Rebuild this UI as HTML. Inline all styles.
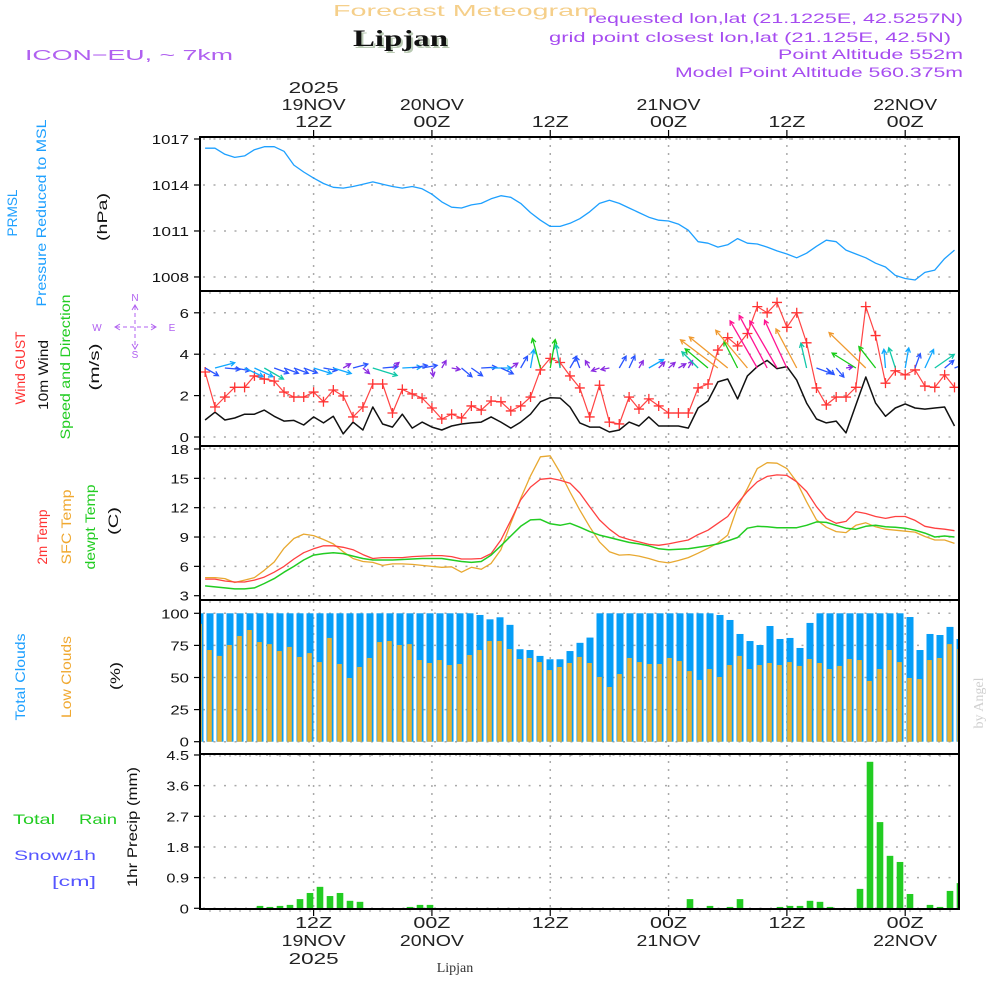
<!DOCTYPE html>
<html><head><meta charset="utf-8"><title>Forecast Meteogram Lipjan</title>
<style>
html,body{margin:0;padding:0;background:#fff;}
svg{display:block;}
text{font-family:"Liberation Sans",sans-serif;}
</style></head>
<body>
<svg id="chart" width="1000" height="1000" viewBox="0 0 1000 1000" xmlns="http://www.w3.org/2000/svg">
<rect x="0" y="0" width="1000" height="1000" fill="#fff"/>
<text x="333" y="16" font-size="16" fill="#f5cf8a" textLength="265" lengthAdjust="spacingAndGlyphs">Forecast Meteogram</text>
<text x="355" y="48" font-size="23" font-weight="bold" font-family="Liberation Serif, serif" fill="#b9c9b3" textLength="95" lengthAdjust="spacingAndGlyphs" style="font-family:'Liberation Serif',serif">Lipjan</text>
<text x="353" y="46" font-size="23" font-weight="bold" fill="#111" textLength="95" lengthAdjust="spacingAndGlyphs" style="font-family:'Liberation Serif',serif">Lipjan</text>
<text x="25" y="60" font-size="15" fill="#b060f0" textLength="208" lengthAdjust="spacingAndGlyphs">ICON−EU, ~ 7km</text>
<text x="963" y="23" font-size="14" fill="#a64cf0" text-anchor="end" textLength="375" lengthAdjust="spacingAndGlyphs">requested lon,lat (21.1225E, 42.5257N)</text>
<text x="951" y="42" font-size="14" fill="#a64cf0" text-anchor="end" textLength="402" lengthAdjust="spacingAndGlyphs">grid point closest lon,lat (21.125E, 42.5N)</text>
<text x="963" y="59" font-size="14" fill="#a64cf0" text-anchor="end" textLength="185" lengthAdjust="spacingAndGlyphs">Point Altitude 552m</text>
<text x="963" y="77" font-size="14" fill="#a64cf0" text-anchor="end" textLength="288" lengthAdjust="spacingAndGlyphs">Model Point Altitude 560.375m</text>

<!-- left axis titles -->
<text transform="translate(17,213) rotate(-90)" text-anchor="middle" font-size="14" fill="#1ea0ff" textLength="47" lengthAdjust="spacingAndGlyphs">PRMSL</text>
<text transform="translate(46,213) rotate(-90)" text-anchor="middle" font-size="14" fill="#1ea0ff" textLength="187" lengthAdjust="spacingAndGlyphs">Pressure Reduced to MSL</text>
<text transform="translate(107,217) rotate(-90)" text-anchor="middle" font-size="14" fill="#111" textLength="48" lengthAdjust="spacingAndGlyphs">(hPa)</text>
<text transform="translate(25,368) rotate(-90)" text-anchor="middle" font-size="14" fill="#ff3333" textLength="73" lengthAdjust="spacingAndGlyphs">Wind GUST</text>
<text transform="translate(48,375) rotate(-90)" text-anchor="middle" font-size="14" fill="#111" textLength="70" lengthAdjust="spacingAndGlyphs">10m Wind</text>
<text transform="translate(70,367) rotate(-90)" text-anchor="middle" font-size="14" fill="#22cc22" textLength="145" lengthAdjust="spacingAndGlyphs">Speed and Direction</text>
<text transform="translate(99,367) rotate(-90)" text-anchor="middle" font-size="14" fill="#111" textLength="47" lengthAdjust="spacingAndGlyphs">(m/s)</text>
<g fill="#b060f0" stroke="#b060f0" font-size="10">
<text x="135" y="301" text-anchor="middle" stroke="none">N</text>
<text x="135" y="358" text-anchor="middle" stroke="none">S</text>
<text x="97" y="331" text-anchor="middle" stroke="none">W</text>
<text x="172" y="331" text-anchor="middle" stroke="none">E</text>
<line x1="116" y1="327" x2="155" y2="327" stroke-dasharray="4 3" fill="none"/>
<line x1="135" y1="306" x2="135" y2="348" stroke-dasharray="4 3" fill="none"/>
<polyline points="120,324 115,327 120,330" fill="none"/>
<polyline points="151,324 156,327 151,330" fill="none"/>
<polyline points="132,310 135,305 138,310" fill="none"/>
<polyline points="132,344 135,349 138,344" fill="none"/>
</g>
<text transform="translate(47,537) rotate(-90)" text-anchor="middle" font-size="14" fill="#ff3333" textLength="55" lengthAdjust="spacingAndGlyphs">2m Temp</text>
<text transform="translate(71,527) rotate(-90)" text-anchor="middle" font-size="14" fill="#f0a830" textLength="75" lengthAdjust="spacingAndGlyphs">SFC Temp</text>
<text transform="translate(95,527) rotate(-90)" text-anchor="middle" font-size="14" fill="#22cc22" textLength="85" lengthAdjust="spacingAndGlyphs">dewpt Temp</text>
<text transform="translate(118,521) rotate(-90)" text-anchor="middle" font-size="14" fill="#111" textLength="28" lengthAdjust="spacingAndGlyphs">(C)</text>
<text transform="translate(25,677) rotate(-90)" text-anchor="middle" font-size="14" fill="#1ea0ff" textLength="87" lengthAdjust="spacingAndGlyphs">Total Clouds</text>
<text transform="translate(71,677) rotate(-90)" text-anchor="middle" font-size="14" fill="#f0a830" textLength="82" lengthAdjust="spacingAndGlyphs">Low Clouds</text>
<text transform="translate(120,676) rotate(-90)" text-anchor="middle" font-size="14" fill="#111" textLength="28" lengthAdjust="spacingAndGlyphs">(%)</text>
<text transform="translate(137,827) rotate(-90)" text-anchor="middle" font-size="14" fill="#111" textLength="120" lengthAdjust="spacingAndGlyphs">1hr Precip (mm)</text>
<text x="13" y="824" font-size="14" fill="#22cc22" textLength="42" lengthAdjust="spacingAndGlyphs">Total</text>
<text x="79" y="824" font-size="14" fill="#22cc22" textLength="38" lengthAdjust="spacingAndGlyphs">Rain</text>
<text x="14" y="860" font-size="14" fill="#5555ff" textLength="82" lengthAdjust="spacingAndGlyphs">Snow/1h</text>
<text x="52" y="886" font-size="14" fill="#5555ff" textLength="44" lengthAdjust="spacingAndGlyphs">[cm]</text>
<text transform="translate(983,703) rotate(-90)" text-anchor="middle" font-size="14" fill="#d0d0d0" style="font-family:'Liberation Serif',serif">by Angel</text>
<text x="455" y="972" text-anchor="middle" font-size="14" fill="#333" style="font-family:'Liberation Serif',serif">Lipjan</text>
<g id="plot"></g>
</svg>
<script>
// ---------- data ----------
const hourIdx = Array.from({length:77},(_,i)=>i+1);
const barIdx = Array.from({length:77},(_,i)=>i);
const pressure = [1016.4,1016.4,1016.0,1015.8,1015.9,1016.3,1016.5,1016.5,1016.2,1015.3,
1014.85,1014.45,1014.1,1013.85,1013.8,1013.9,1014.05,1014.2,1014.05,1013.9,
1013.8,1013.9,1013.75,1013.4,1012.9,1012.55,1012.5,1012.7,1012.8,1013.1,
1013.3,1013.2,1012.8,1012.2,1011.7,1011.3,1011.3,1011.5,1011.8,1012.25,
1012.8,1013.0,1012.8,1012.5,1012.2,1011.9,1011.7,1011.65,1011.45,1011.05,
1010.3,1010.2,1009.95,1010.1,1010.5,1010.2,1010.15,1009.95,1009.7,1009.5,
1009.25,1009.55,1010.0,1010.4,1010.3,1009.75,1009.5,1009.25,1008.9,1008.65,
1008.1,1007.9,1007.8,1008.3,1008.45,1009.2,1009.75];
const windGust = [3.14,1.45,1.93,2.4,2.4,2.95,2.8,2.7,2.17,1.93,
1.93,2.17,1.7,2.27,1.98,0.97,1.45,2.56,2.56,1.16,
2.3,2.08,1.88,1.4,0.87,1.1,0.92,1.5,1.3,1.74,
1.7,1.26,1.5,1.93,3.24,3.8,3.6,2.95,2.37,0.97,
2.5,0.72,0.63,1.93,1.35,1.84,1.5,1.16,1.16,1.16,
2.37,2.56,4.2,4.8,4.4,5.0,6.3,6.0,6.5,5.3,
6.0,4.55,2.37,1.55,1.93,1.93,2.4,6.3,4.9,2.6,
3.2,3.0,3.24,2.46,2.4,3.0,2.4];
const wind10m = [0.82,1.2,0.82,0.92,1.1,1.1,1.3,1.0,0.77,0.8,
0.58,0.97,0.68,1.0,0.15,0.72,0.34,1.45,0.63,0.48,
1.1,0.43,0.72,0.48,0.34,0.53,0.63,0.68,0.72,0.97,
0.72,0.43,0.72,1.1,1.7,1.9,1.88,1.45,0.68,0.48,
0.48,0.24,0.34,0.72,0.53,0.97,0.53,0.53,0.53,0.43,
1.4,1.74,2.66,2.8,1.84,2.95,3.4,3.7,3.3,3.4,
2.75,1.64,0.87,0.68,0.77,0.2,1.55,2.9,1.64,1.0,
1.4,1.6,1.4,1.35,1.4,1.45,0.53];
const arrowDir = [-30,15,-5,-10,-25,-25,-30,-20,-20,-20,
-20,-17,-10,-17,30,15,-40,-17,5,40,
3,10,10,-80,60,-10,-40,-35,3,0,
-25,35,60,80,105,80,100,60,110,120,
200,190,60,65,60,30,45,40,30,60,
135,140,143,141,117,130,120,118,120,115,
118,103,-20,-40,-50,10,148,136,128,95,
108,80,70,65,35,40,20];
const arrowSpd = [0.9,1.2,0.9,0.9,1.2,1.2,1.3,0.9,0.9,0.9,
0.85,1.1,0.8,1.1,0.5,0.9,0.5,1.5,0.9,0.5,
1.1,0.9,0.9,0.5,0.5,0.5,0.8,0.8,0.9,1.2,
0.8,0.5,0.8,1.1,1.8,1.7,1.4,0.8,0.7,0.5,
0.5,0.5,0.8,0.8,0.5,1.0,0.5,0.5,0.5,0.5,
1.35,1.75,2.75,2.9,1.75,2.9,3.2,3.5,3.2,3.1,
2.6,1.5,0.9,0.6,0.7,0.4,1.65,3.0,1.6,1.1,
1.25,1.2,0.9,1.2,1.4,0.7,0.8];
const temp2m = [4.7,4.7,4.5,4.4,4.4,4.6,4.9,5.4,6.0,6.75,
7.4,7.8,8.1,8.1,7.95,7.7,7.2,6.8,6.9,6.9,
6.9,7.0,7.05,7.1,7.1,7.0,6.75,6.75,6.8,7.3,
8.7,10.7,12.8,14.1,14.9,15.0,14.8,14.5,13.5,12.1,
10.75,9.8,9.05,8.75,8.5,8.25,8.15,8.3,8.5,8.7,
9.25,9.7,10.4,11.1,12.45,13.65,14.65,15.2,15.35,15.3,
14.65,13.65,12.1,10.9,10.4,10.6,11.6,11.4,11.1,10.9,
11.1,11.1,10.7,10.1,9.9,9.8,9.65];
const tempSfc = [4.85,4.85,4.75,4.35,4.6,4.85,5.6,6.45,7.85,8.85,
9.3,9.15,8.75,8.3,7.5,6.8,6.5,6.4,6.1,6.25,
6.25,6.2,6.1,6.0,5.9,5.95,5.4,5.9,5.7,6.3,
7.7,10.4,12.95,15.25,17.2,17.3,15.6,13.6,11.75,10.05,
8.5,7.5,7.15,7.2,7.05,6.8,6.5,6.35,6.6,6.9,
7.35,7.85,8.4,9.2,12.1,13.95,16.0,16.6,16.55,16.0,
14.65,12.6,10.75,10.0,9.55,9.45,10.2,10.45,10.05,9.8,
9.7,9.6,9.5,9.05,8.7,8.7,8.35];
const dewpt = [4.0,3.9,3.8,3.7,3.7,3.8,4.25,4.75,5.4,6.0,
6.65,7.15,7.3,7.4,7.3,7.05,6.8,6.65,6.65,6.65,
6.7,6.75,6.8,6.8,6.8,6.65,6.5,6.4,6.5,7.15,
8.1,9.1,10.1,10.75,10.8,10.35,10.2,10.4,10.0,9.55,
9.2,8.95,8.7,8.45,8.3,8.1,7.8,7.7,7.75,7.8,
7.95,8.1,8.3,8.6,8.95,9.9,10.1,10.05,9.95,9.95,
9.95,10.2,10.55,10.5,10.2,9.9,9.8,10.1,10.2,10.05,
10.0,9.9,9.7,9.4,9.0,9.1,9.0];
const totalClouds = [100,100,100,100,100,100,100,100,100,100,
100,100,100,100,100,100,100,100,100,100,
100,100,100,100,100,100,100,100,98.7,95.3,
96.9,91,72,71.4,66.8,64.2,64.2,70.6,77,81.1,
100,100,100,100,100,100,100,100,100,100,
100,100,98.7,94.8,83.9,78.4,75.3,90.1,80,80.8,
73,92.5,100,100,100,100,100,100,100,100,
100,97.1,71.4,83.9,83.1,89.4,80];
const lowClouds = [91.7,71.4,66.8,75.3,82.3,87,77.6,76,70.6,73.8,
66,69,62,80.8,60.5,49.6,58.2,65.2,77.6,78.4,
75.3,76,63.6,61.3,63.6,59.7,60.5,67.5,71.4,78.4,
78.4,72.2,64.4,65.2,62,55.8,58.2,61.3,66,61.3,
50.4,42.6,52.7,65.2,62,60.5,60.5,65.2,62.8,55,
48.1,56.6,50.4,59.7,66.8,56.6,59.7,61.3,59.7,62,
59,64.4,61.3,56.6,59,64.4,63.6,47.3,56.6,71.4,
62,49.6,48.8,63.6,65.2,76,72.2];
const precip = [0,0,0,0,0,0,0.07,0.04,0.07,0.1,
0.27,0.45,0.63,0.36,0.45,0.22,0.19,0,0,0,
0,0.04,0.1,0.1,0,0,0,0,0,0,
0,0,0,0,0,0,0,0,0,0,
0,0,0,0,0,0,0,0,0,0.27,
0,0.07,0,0.04,0.27,0,0,0,0.04,0.07,
0.07,0.22,0.19,0.04,0,0,0.57,4.3,2.53,1.54,
1.36,0.42,0,0.1,0.04,0.51,0.74];
const pressTicks = [1008,1011,1014,1017];
const windTicks = [0,2,4,6];
const tempTicks = [3,6,9,12,15,18];
const cloudTicks = [0,25,50,75,100];
const precipTicks = [0,0.9,1.8,2.7,3.6,4.5];
const precipTickLabels = ["0","0.9","1.8","2.7","3.6","4.5"];
const timeTickHours = [12,24,36,48,60,72];
const timeTopLabels = [["2025","19NOV","12Z"],["","20NOV","00Z"],["","","12Z"],["","21NOV","00Z"],["","","12Z"],["","22NOV","00Z"]];
const timeBottomLabels = [["12Z","19NOV","2025"],["00Z","20NOV",""],["12Z","",""],["00Z","21NOV",""],["12Z","",""],["00Z","22NOV",""]];

// ---------- scales ----------
const L=200, R=959, TOP=137;
const P = {pres:[137,291],wind:[291,446],temp:[446,600],cloud:[600,754],prec:[754,909]};
const xH = h => 313.6 + (h-12)*9.86;
const xB = k => 200 + 10*k;
const yPres = v => 139 + (1017-v)*15.33;
const yWind = v => 437 - v*20.7;
const yTemp = v => 449 + (18-v)*9.78;
const yCloud = v => 741.7 - v*1.284;
const yPrec = v => 908.3 - v*34.07;

const NS="http://www.w3.org/2000/svg";
const plot=document.getElementById('plot');
function mk(tag,attrs,parent){const e=document.createElementNS(NS,tag);for(const k in attrs)e.setAttribute(k,attrs[k]);(parent||plot).appendChild(e);return e;}

// clip
const defs=mk('defs',{});
const cp=mk('clipPath',{id:'clipPlot'},defs);
mk('rect',{x:L,y:TOP,width:R-L,height:909-TOP},cp);

// grids
const grid=mk('g',{stroke:'#aaa','stroke-width':'1.5','stroke-dasharray':'2 8.5',fill:'none'});


function hgrid(y){mk('line',{x1:L+3,y1:y,x2:R,y2:y},grid);}
pressTicks.forEach(v=>hgrid(yPres(v)));
windTicks.forEach(v=>hgrid(yWind(v)));
tempTicks.forEach(v=>hgrid(yTemp(v)));
cloudTicks.forEach(v=>hgrid(yCloud(v)));
precipTicks.forEach(v=>hgrid(yPrec(v)));
timeTickHours.forEach(h=>mk('line',{x1:xH(h),y1:TOP,x2:xH(h),y2:909,'stroke-dasharray':'2 6'},grid));

// clouds bars
const cg=mk('g',{'clip-path':'url(#clipPlot)'});


barIdx.forEach((k,i)=>{
  const b=mk('rect',{x:xB(k)-3.5,y:yCloud(totalClouds[i]),width:7,height:yCloud(0)-yCloud(totalClouds[i]),fill:'#069ef7'},cg);
  
  
  const o=mk('rect',{x:xB(k)-2.8,y:yCloud(lowClouds[i]),width:4.6,height:yCloud(0)-yCloud(lowClouds[i]),fill:'#e8b030'},cg);
  
  
});
// precip bars
const pg=mk('g',{'clip-path':'url(#clipPlot)'});


barIdx.forEach((k,i)=>{
  if(precip[i]<=0) return;
  const b=mk('rect',{x:xB(k)-3.3,y:yPrec(precip[i]),width:6.6,height:yPrec(0)-yPrec(precip[i]),fill:'#22cc22'},pg);
  
  
});

function line(arr,yf,color,name,w){
  const pts=hourIdx.map((h,i)=>xH(h).toFixed(1)+','+yf(arr[i]).toFixed(1)).join(' ');
  const p=mk('polyline',{points:pts,fill:'none',stroke:color,'stroke-width':w||1.3,'stroke-linejoin':'round','clip-path':'url(#clipPlot)'});
  
  
  return p;
}
line(pressure,yPres,'#1ea0ff','pressure-line',1.3);
line(tempSfc,yTemp,'#e8a830','sfc-temp-line',1.3);
line(temp2m,yTemp,'#ff4040','temp-2m-line',1.3);
line(dewpt,yTemp,'#22cc22','dewpoint-line',1.5);
line(wind10m,yWind,'#111','wind-10m-line',1.5);
line(windGust,yWind,'#ff4444','wind-gust-line',1.2);
// gust markers
const gm=mk('g',{stroke:'#ff3333','stroke-width':'1.3'});


hourIdx.forEach((h,i)=>{
  const x=xH(h),y=yWind(windGust[i]);
  mk('path',{d:`M${x-5},${y}H${x+5}M${x},${y-5}V${y+5}`},gm);
});
// wind arrows
function arrowColor(s){
  if(s<0.55) return '#8a2be2';
  if(s<0.95) return '#2a55ff';
  if(s<1.25) return '#10a8ff';
  if(s<1.55) return '#10c8a8';
  if(s<2.0) return '#18cc18';
  if(s<3.1) return '#f09a30';
  return '#ff1493';
}
const ag=mk('g',{'stroke-width':'1.3',fill:'none','clip-path':'url(#clipPlot)'});


const baseY=368;
hourIdx.forEach((h,i)=>{
  const x=xH(h), a=arrowDir[i]*Math.PI/180, len=arrowSpd[i]*17;
  const x2=x+len*Math.cos(a), y2=baseY-len*Math.sin(a);
  const hs=5, ang=Math.atan2(y2-baseY,x2-x);
  const h1x=x2-hs*Math.cos(ang-0.5), h1y=y2-hs*Math.sin(ang-0.5);
  const h2x=x2-hs*Math.cos(ang+0.5), h2y=y2-hs*Math.sin(ang+0.5);
  const p=mk('path',{d:`M${x},${baseY}L${x2},${y2}M${h1x},${h1y}L${x2},${y2}L${h2x},${h2y}`,stroke:arrowColor(arrowSpd[i])},ag);
  
  
});

// borders
const bg=mk('g',{stroke:'#000','stroke-width':'2',fill:'none'});


mk('rect',{x:L,y:TOP,width:R-L,height:909-TOP},bg);
[291,446,600,754].forEach(y=>mk('line',{x1:L,y1:y,x2:R,y2:y},bg));
// small hourly ticks along panel edges
const tg=mk('g',{stroke:'#999','stroke-width':'1'});


[137,291,446,600,754,909].forEach(y=>{
  barIdx.forEach(k=>{ if(k>0&&k<76) mk('line',{x1:xB(k),y1:y+1,x2:xB(k),y2:y+3},tg); });
});
// time ticks
timeTickHours.forEach(h=>{
  mk('line',{x1:xH(h),y1:130,x2:xH(h),y2:137,stroke:'#000','stroke-width':1.2});
  mk('line',{x1:xH(h),y1:909,x2:xH(h),y2:916,stroke:'#000','stroke-width':1.2});
});

// y tick labels
function wid(s){let w=0;for(const c of s)w+=(c=='.')?4:9.3;return w;}
function ytick(y,label,name){
  mk('line',{x1:194,y1:y,x2:L,y2:y,stroke:'#000','stroke-width':1.2});
  const t=mk('text',{x:189,y:y+5,'font-size':13,'text-anchor':'end',fill:'#111',textLength:wid(label),lengthAdjust:'spacingAndGlyphs'});
  t.textContent=label;
  
  
}
pressTicks.forEach(v=>ytick(yPres(v),String(v),'pressure-tick-label'));
windTicks.forEach(v=>ytick(yWind(v),String(v),'wind-tick-label'));
tempTicks.forEach(v=>ytick(yTemp(v),String(v),'temp-tick-label'));
cloudTicks.forEach(v=>ytick(yCloud(v),String(v),'cloud-tick-label'));
precipTicks.forEach((v,i)=>ytick(yPrec(v),precipTickLabels[i],'precip-tick-label'));

// time labels
function tlabel(x,y,s,name){
  if(!s) return;
  const w = s.length==3?37:(s.length==4?50:64);
  const t=mk('text',{x:x,y:y,'font-size':16,'text-anchor':'middle',fill:'#222',textLength:w,lengthAdjust:'spacingAndGlyphs'});
  t.textContent=s;
  
  
}
timeTickHours.forEach((h,i)=>{
  const x=xH(h);
  tlabel(x,93,timeTopLabels[i][0],'top-year-label');
  tlabel(x,110,timeTopLabels[i][1],'top-date-label');
  tlabel(x,127,timeTopLabels[i][2],'top-time-label');
  tlabel(x,928,timeBottomLabels[i][0],'bottom-time-label');
  tlabel(x,946,timeBottomLabels[i][1],'bottom-date-label');
  tlabel(x,964,timeBottomLabels[i][2],'bottom-year-label');
});
</script>
</body></html>
